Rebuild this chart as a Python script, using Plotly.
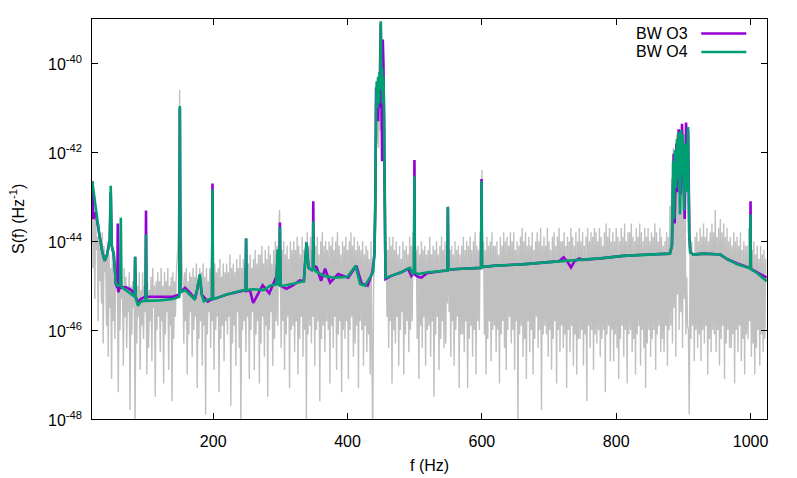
import numpy as np
import plotly.graph_objects as go

# periodogram (log10 S), 1.25 Hz bins starting at 20 Hz
gray_s = [
    -43.1, -44.6, -43.5, -45.3, -43.4, -44.2, -43.9, -45.8, -43.6, -44.9, -44.0, -45.4, -43.8, -46.3, -44.1, -44.7, -44.4, -45.9, -44.0, -46.6,
    -44.3, -45.5, -44.6, -47.1, -44.2, -45.8, -44.8, -46.2, -44.5, -45.1, -44.9, -47.4, -44.6, -46.0, -44.7, -45.3, -45.0, -46.8, -44.6, -45.7,
    -44.8, -46.4, -45.1, -45.6, -44.7, -47.8, -45.0, -46.1, -44.9, -45.5, -45.2, -48.2, -44.8, -46.3, -45.0, -45.7, -44.7, -46.9, -45.1, -45.9,
    -44.7, -46.2, -45.0, -45.6, -44.6, -47.0, -44.9, -46.4, -45.1, -45.8, -44.8, -46.7, -44.6, -45.5, -45.0, -47.5, -44.9, -46.0, -44.7, -45.7,
    -44.9, -46.5, -44.6, -45.8, -45.0, -47.2, -44.7, -46.1, -44.9, -45.6, -44.6, -46.9, -45.0, -45.9, -44.8, -47.6, -44.7, -46.2, -44.9, -45.7,
    -44.8, -44.5, -44.1, -43.0, -40.6, -42.8, -44.2, -44.6, -44.9, -46.3, -44.7, -45.8, -44.6, -47.0, -44.9, -46.1, -44.7, -45.6, -44.8, -46.6,
    -44.6, -46.0, -44.8, -45.7, -44.5, -47.3, -44.9, -46.2, -44.6, -45.8, -44.7, -46.8, -44.5, -45.9, -44.8, -47.9, -44.6, -46.1, -44.9, -45.6,
    -44.6, -46.4, -44.4, -45.8, -44.8, -46.9, -44.5, -46.0, -44.7, -45.7, -44.6, -47.4, -44.4, -46.2, -44.8, -45.9, -44.5, -46.7, -44.7, -45.8,
    -44.5, -46.1, -44.7, -45.7, -44.3, -47.7, -44.6, -46.3, -44.5, -45.9, -44.7, -46.8, -44.4, -45.6, -44.6, -46.4, -44.3, -48.3, -44.6, -46.0,
    -44.4, -45.8, -44.6, -46.5, -44.2, -45.7, -44.5, -47.1, -44.3, -46.0, -44.6, -45.6, -44.4, -46.9, -44.2, -46.1, -44.5, -45.8, -44.3, -47.2,
    -44.3, -46.3, -44.1, -45.7, -44.5, -46.6, -44.2, -45.9, -44.4, -47.5, -44.1, -46.0, -44.3, -45.6, -44.5, -46.8, -44.2, -46.2, -44.0, -45.8,
    -44.1, -45.9, -43.8, -43.3, -44.6, -46.4, -44.2, -45.8, -44.0, -46.9, -44.3, -46.1, -44.1, -45.7, -44.4, -47.3, -44.0, -46.0, -44.2, -45.9,
    -44.0, -46.5, -44.2, -45.8, -43.9, -47.0, -44.1, -46.2, -44.3, -45.7, -43.9, -46.6, -44.2, -46.0, -44.0, -48.0, -43.8, -46.1, -44.1, -45.9,
    -43.9, -46.3, -44.2, -45.7, -43.8, -46.8, -44.1, -46.0, -43.9, -45.8, -44.3, -47.6, -44.0, -46.2, -43.8, -45.9, -44.1, -46.5, -44.0, -45.8,
    -44.2, -46.0, -44.0, -47.2, -44.1, -45.9, -43.9, -46.4, -44.2, -45.7, -44.0, -46.9, -43.8, -46.1, -44.1, -45.8, -44.3, -47.4, -44.0, -46.0,
    -44.1, -46.2, -43.9, -45.8, -44.2, -47.1, -44.0, -46.0, -43.8, -45.7, -44.1, -46.6, -43.9, -46.3, -44.2, -45.9, -44.0, -47.3, -44.1, -45.8,
    -44.2, -46.0, -44.0, -46.8, -44.3, -45.9, -44.1, -46.5, -44.2, -46.1, -44.4, -47.0, -44.0, -46.3, -48.6, -45.2, -43.2, -42.0, -41.3, -41.8,
    -41.1, -41.9, -40.8, -41.5, -40.9, -41.7, -41.2, -42.3, -43.4, -44.3, -44.0, -45.7, -44.2, -46.4, -43.9, -45.8, -44.1, -47.2, -43.9, -46.0,
    -44.2, -46.3, -44.0, -45.7, -44.3, -46.8, -44.1, -46.0, -44.4, -45.6, -44.0, -47.0, -44.2, -46.1, -44.1, -45.8, -44.3, -46.5, -43.9, -46.0,
    -44.1, -45.8, -43.8, -44.6, -42.2, -44.8, -44.2, -46.2, -44.1, -47.1, -44.3, -45.9, -44.0, -46.4, -44.2, -45.7, -44.1, -46.8, -44.3, -46.0,
    -44.2, -45.9, -43.9, -46.6, -44.3, -45.8, -44.1, -47.5, -44.2, -46.1, -44.0, -45.7, -44.3, -46.9, -44.1, -46.2, -43.9, -45.8, -44.2, -46.4,
    -44.0, -46.3, -44.1, -45.4, -43.2, -45.6, -44.2, -46.6, -44.1, -45.8, -44.3, -46.8, -44.0, -46.0, -44.2, -45.7, -44.1, -47.3, -44.3, -46.1,
    -44.1, -46.1, -43.9, -46.5, -44.2, -45.8, -44.0, -47.3, -44.1, -46.2, -43.9, -45.9, -44.2, -46.6, -44.0, -46.0, -43.8, -47.0, -44.1, -45.8,
    -44.2, -46.0, -43.8, -44.5, -42.4, -44.6, -44.0, -46.1, -44.2, -47.0, -43.9, -46.2, -44.1, -45.8, -44.0, -46.7, -43.8, -46.0, -44.1, -45.9,
    -44.1, -46.5, -44.0, -46.0, -44.3, -47.2, -43.9, -46.1, -44.1, -45.8, -43.8, -46.4, -44.0, -46.9, -43.9, -46.0, -44.1, -45.7, -43.8, -46.3,
    -44.0, -46.0, -43.8, -46.9, -44.2, -45.8, -44.0, -48.2, -44.1, -46.1, -43.9, -45.9, -43.7, -46.6, -44.0, -46.2, -43.8, -47.1, -44.1, -45.8,
    -43.9, -46.5, -44.1, -46.0, -43.8, -47.0, -44.2, -46.2, -44.0, -45.7, -43.8, -46.4, -44.0, -46.0, -43.7, -47.8, -44.1, -46.1, -43.9, -45.9,
    -44.1, -46.1, -43.7, -46.6, -44.0, -46.0, -44.2, -46.9, -43.9, -46.2, -43.8, -45.8, -44.1, -47.2, -43.9, -46.0, -43.7, -46.5, -44.0, -45.9,
    -44.0, -46.4, -43.8, -46.1, -44.1, -47.3, -43.9, -46.0, -44.0, -46.5, -43.7, -45.9, -43.9, -46.8, -44.1, -46.1, -43.8, -47.0, -44.0, -46.2,
    -43.7, -46.2, -44.0, -46.0, -43.8, -46.8, -44.1, -46.1, -43.9, -47.6, -43.7, -45.9, -44.0, -46.4, -43.8, -46.0, -43.9, -46.9, -43.7, -46.1,
    -43.8, -46.3, -44.0, -46.0, -43.7, -46.6, -43.9, -46.2, -44.1, -46.0, -43.8, -47.4, -43.6, -46.1, -43.9, -45.9, -43.7, -46.7, -44.0, -46.0,
    -43.8, -46.7, -44.0, -46.1, -43.7, -46.4, -43.9, -47.1, -44.0, -46.2, -43.7, -45.9, -43.9, -46.6, -43.6, -46.0, -44.0, -47.2, -43.8, -46.1,
    -43.8, -46.0, -43.6, -46.5, -43.9, -46.2, -44.0, -47.0, -43.7, -46.1, -43.9, -45.9, -43.6, -46.8, -43.8, -46.0, -44.0, -46.4, -43.7, -47.3,
    -43.9, -46.3, -43.7, -46.0, -44.0, -46.6, -43.8, -46.2, -43.9, -46.0, -43.6, -46.9, -43.8, -46.1, -44.0, -45.9, -43.7, -46.5, -43.9, -46.2,
    -44.1, -46.5, -44.0, -45.9, -43.8, -46.8, -43.9, -46.0, -43.2, -45.9, -42.6, -46.3, -41.9, -45.5, -42.3, -46.6, -41.6, -45.2, -42.1, -46.0,
    -42.8, -45.6, -42.0, -46.4, -41.9, -45.3, -42.5, -46.1, -44.8, -45.9, -46.0, -47.9, -44.2, -46.2, -44.0, -45.9, -44.3, -46.7, -43.9, -46.0,
    -43.8, -46.4, -44.0, -46.1, -43.7, -46.7, -43.9, -46.0, -43.6, -46.3, -43.9, -45.9, -43.7, -47.0, -44.0, -46.2, -43.8, -46.5, -43.6, -46.0,
    -43.8, -46.1, -43.3, -46.5, -43.9, -46.0, -43.7, -46.8, -43.5, -46.2, -43.8, -45.9, -43.6, -47.1, -43.9, -46.3, -43.7, -46.0, -44.0, -46.4,
    -43.9, -46.4, -44.1, -46.1, -43.8, -47.2, -44.0, -46.0, -43.9, -46.5, -44.1, -45.9, -43.8, -46.7, -44.2, -46.2, -44.0, -47.0, -44.1, -46.1,
    -44.1, -46.2, -43.7, -45.8, -43.3, -46.6, -44.2, -46.3, -44.0, -47.0, -44.3, -46.4, -44.1, -46.0, -44.4, -46.8, -44.1, -46.1, -44.3, -46.5,
    -44.2, -46.2, -44.4,
]
gray_f = 20 + 1.25 * np.arange(len(gray_s))

# BW O4 fit
o4_f = [
    20, 22, 25, 30, 35, 38.5, 42, 46, 47.5, 49, 52, 55, 58, 61.5, 62.5, 63.5,
    70, 78, 83, 83.8, 84.8, 88, 92, 99.3, 100, 100.7, 120, 140, 149.5, 150.4,
    151.3, 158, 165, 172, 176, 180, 183, 186, 195, 198.3, 199, 199.7, 205, 220,
    240, 248.3, 249, 249.7, 260, 275, 285, 294, 296, 297.5, 298.8, 299.4, 300.2,
    305, 320, 335, 339, 342, 347, 348.5, 349, 349.7, 352, 365, 380, 400, 412,
    418.7, 426, 433.5, 438, 440, 441.5, 442.5, 443.5, 444.5, 445.5, 446.5,
    447.5, 448.5, 449.5, 450.5, 451.5, 452.5, 453.5, 454.5, 455.5, 456.5, 465,
    480, 493, 497, 499, 499.6, 500.3, 505, 520, 540, 548.8, 549.4, 550, 570,
    598.8, 599.5, 600.2, 620, 660, 700, 740, 780, 810, 850, 880, 883, 884.7,
    886, 887.5, 889, 890.5, 892, 893, 895, 896.5, 898, 899.5, 901, 903, 905,
    907, 908.5, 910, 915, 930, 955, 965, 980, 995, 999.5, 1000, 1000.5, 1010,
    1024,
]
o4_s = [
    -42.65, -42.9, -43.3, -43.8, -44.25, -44.44, -44.3, -44.0, -42.75, -44.1,
    -44.3, -44.95, -45.0, -45.0, -43.47, -45.03, -45.1, -45.2, -45.25, -44.35,
    -45.3, -45.45, -45.36, -45.34, -43.85, -45.34, -45.33, -45.3, -45.25,
    -40.96, -45.15, -45.1, -45.2, -45.3, -45.1, -44.74, -45.2, -45.35, -45.3,
    -45.3, -42.84, -45.3, -45.28, -45.2, -45.12, -45.1, -43.94, -45.1, -45.08,
    -45.1, -45.0, -44.97, -44.18, -44.95, -45.0, -43.68, -45.0, -45.0, -44.95,
    -44.9, -44.03, -44.6, -44.65, -44.6, -43.55, -44.6, -44.67, -44.78, -44.82,
    -44.8, -44.55, -44.96, -45.0, -44.81, -44.7, -44.3, -43.0, -40.9, -40.4,
    -41.0, -40.3, -40.9, -40.2, -40.6, -39.05, -40.4, -40.1, -40.9, -40.3,
    -41.2, -43.5, -44.82, -44.78, -44.7, -44.6, -44.75, -44.65, -42.54, -44.7,
    -44.74, -44.7, -44.67, -44.66, -43.23, -44.64, -44.62, -44.6, -42.65,
    -44.58, -44.55, -44.52, -44.47, -44.43, -44.38, -44.33, -44.3, -44.28,
    -44.1, -42.2, -43.5, -41.95, -42.8, -41.7, -42.6, -41.55, -43.4, -41.5,
    -42.5, -41.6, -43.3, -41.8, -42.9, -41.43, -43.8, -44.25, -44.3, -44.28,
    -44.3, -44.4, -44.52, -44.6, -44.61, -43.4, -44.63, -44.72, -44.9,
]

# BW O3 fit
o3_f = [
    20, 21.5, 23, 25, 30, 35, 38.5, 42, 46, 47.5, 49, 52, 55, 57.3, 58, 58.7,
    61, 70, 78, 83, 83.8, 84.8, 88, 92, 99.3, 100, 100.7, 120, 140, 149.5,
    150.4, 151.3, 158, 165, 173, 176, 180, 183, 188, 192, 198.3, 199, 199.7,
    205, 220, 240, 248.3, 249, 249.7, 254.7, 259.6, 268, 273.7, 283.5, 289,
    294.5, 296, 297.5, 298.8, 299.4, 300.2, 309, 318, 329, 335, 339, 342, 347,
    348.5, 349, 349.7, 354, 360.6, 366.6, 374, 386, 401, 413, 421, 430, 437,
    440, 441.5, 442.5, 443.5, 444.5, 445.5, 446.5, 447.5, 448.5, 449.5, 450.5,
    451.5, 452.5, 453.5, 454.5, 455.5, 456.5, 465, 480, 490, 495, 499, 499.6,
    500.3, 505, 510, 518, 540, 548.8, 549.4, 550, 570, 598.8, 599.5, 600.2,
    620, 660, 700, 715, 721.7, 727, 732.7, 738, 745, 750, 780, 810, 850, 880,
    883, 885.6, 887, 889.6, 891, 893, 894.5, 896, 898, 900, 902, 904, 906, 907,
    909, 910.5, 915, 930, 955, 965, 980, 995, 999.5, 1000, 1000.5, 1010, 1024,
]
o3_s = [
    -42.65, -43.5, -43.45, -43.35, -43.8, -44.25, -44.44, -44.3, -44.0, -42.9,
    -44.1, -44.3, -44.95, -45.05, -43.6, -45.15, -45.05, -45.03, -45.1, -45.2,
    -44.35, -45.25, -45.4, -45.3, -45.25, -43.31, -45.25, -45.25, -45.25,
    -45.2, -41.0, -45.15, -45.05, -45.15, -45.3, -45.1, -44.78, -45.2, -45.3,
    -45.36, -45.3, -42.7, -45.3, -45.28, -45.2, -45.12, -45.1, -43.94, -45.12,
    -45.1, -45.39, -45.15, -44.99, -45.17, -44.96, -44.78, -44.3, -44.9,
    -44.95, -43.58, -45.0, -45.07, -45.0, -44.88, -44.9, -44.03, -44.6, -44.65,
    -44.6, -43.1, -44.55, -44.59, -44.89, -44.62, -44.93, -44.74, -44.82,
    -44.55, -44.95, -45.0, -44.7, -44.3, -43.2, -40.54, -41.2, -40.6, -41.3,
    -40.5, -41.0, -40.3, -39.1, -40.6, -42.2, -39.46, -40.0, -41.5, -43.7,
    -44.85, -44.78, -44.7, -44.62, -44.78, -44.7, -42.17, -44.75, -44.8,
    -44.82, -44.72, -44.67, -44.66, -43.23, -44.64, -44.62, -44.6, -42.6,
    -44.58, -44.55, -44.52, -44.47, -44.45, -44.36, -44.45, -44.59, -44.45,
    -44.39, -44.42, -44.38, -44.33, -44.3, -44.28, -44.1, -42.03, -43.6, -41.8,
    -42.9, -41.48, -42.0, -42.95, -41.36, -42.6, -43.5, -41.33, -42.2, -41.5,
    -43.9, -44.25, -44.3, -44.28, -44.3, -44.4, -44.5, -44.58, -44.6, -43.1,
    -44.62, -44.7, -44.82,
]

y_ticks = [-48, -46, -44, -42, -40]
x_ticks = [200, 400, 600, 800, 1000]

PURPLE = "#9400d3"
GREEN = "#009e73"
FONT = "Liberation Sans, Arial, Helvetica, sans-serif"

fig = go.Figure()
fig.add_trace(
    go.Scatter(
        x=gray_f,
        y=np.power(10.0, gray_s),
        mode="lines",
        line=dict(color="#c0c0c0", width=1.4),
        name="data",
    )
)
fig.add_trace(
    go.Scatter(
        x=o3_f,
        y=np.power(10.0, o3_s),
        mode="lines",
        line=dict(color=PURPLE, width=2.6),
        name="BW O3",
    )
)
fig.add_trace(
    go.Scatter(
        x=o4_f,
        y=np.power(10.0, o4_s),
        mode="lines",
        line=dict(color=GREEN, width=2.6),
        name="BW O4",
    )
)

axis_common = dict(
    showline=True,
    linecolor="black",
    linewidth=1,
    mirror="ticks",
    ticks="inside",
    ticklen=6,
    tickcolor="black",
    showgrid=False,
    zeroline=False,
    automargin=False,
    tickfont=dict(family=FONT, size=16, color="black"),
)

# the page body adds an 8 px margin, so the figure is sized to fit inside it
fig.update_layout(
    width=781,
    height=470,
    margin=dict(l=84, r=22, t=11, b=59),
    plot_bgcolor="white",
    paper_bgcolor="white",
    showlegend=False,
    font=dict(family=FONT, size=16, color="black"),
    xaxis=dict(range=[19.6, 1024.5], tickvals=x_ticks, ticklabelstandoff=8, **axis_common),
    yaxis=dict(
        type="log",
        range=[-48, -39],
        tickvals=[10.0**v for v in y_ticks],
        showticklabels=False,
        **axis_common,
    ),
)

# y tick labels in gnuplot style (10^-40 ...)
for v in y_ticks:
    fig.add_annotation(
        xref="paper", yref="y", x=0, y=v, xshift=-8,
        text=f"10<sup>{v}</sup>", showarrow=False,
        xanchor="right", yanchor="middle",
        font=dict(family=FONT, size=16, color="black"),
    )

# axis titles
fig.add_annotation(
    xref="paper", yref="paper", x=0.5, y=0, yshift=-46,
    text="f (Hz)", showarrow=False, xanchor="center", yanchor="middle",
    font=dict(family=FONT, size=16, color="black"),
)
fig.add_annotation(
    xref="paper", yref="paper", x=0, y=0.5, xshift=-75,
    text="S(f) (Hz<sup>-1</sup>)", showarrow=False, textangle=-90,
    xanchor="center", yanchor="middle",
    font=dict(family=FONT, size=16, color="black"),
)

# gnuplot-style key: text on the left, line sample on the right
for label, color, ypos in [("BW O3", PURPLE, 0.9636), ("BW O4", GREEN, 0.9176)]:
    fig.add_annotation(
        xref="paper", yref="paper", x=0.886, y=ypos,
        text=label, showarrow=False, xanchor="right", yanchor="middle",
        font=dict(family=FONT, size=16, color="black"),
    )
    fig.add_shape(
        type="line", xref="paper", yref="paper",
        x0=0.9026, x1=0.9693, y0=ypos, y1=ypos,
        line=dict(color=color, width=2.6),
    )

fig.write_html("out.html")
